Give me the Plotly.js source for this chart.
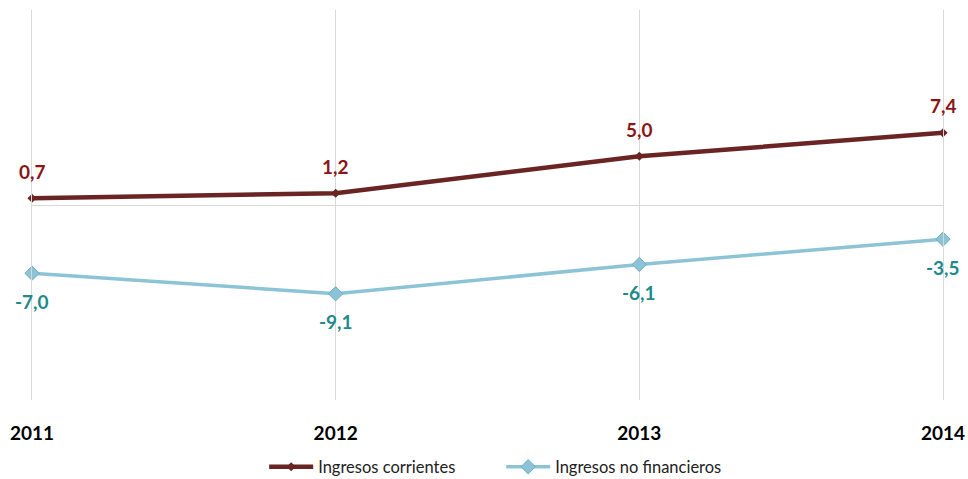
<!DOCTYPE html>
<html><head><meta charset="utf-8">
<script src="https://cdn.plot.ly/plotly-3.0.1.min.js"></script>
<style>html,body{margin:0;padding:0;background:#fff;}</style>
</head><body><div id="chart" style="width:968px;height:479px;"></div>
<script>
const years = ['2011','2012','2013','2014'];
const corrientes = [0.7, 1.2, 5.0, 7.4];
const noFinancieros = [-7.0, -9.1, -6.1, -3.5];
const seriesNames = ['Ingresos corrientes', 'Ingresos no financieros'];

const fmt = v => v.toFixed(1).replace('.', ',');
const FONT = 'Lato, "Open Sans", sans-serif';
const RED = '#8b1515', TEAL = '#1f8a8a';

const traces = [
  {
    x: years, y: corrientes, name: seriesNames[0], type: 'scatter',
    mode: 'lines+markers',
    line: {color: '#6b2424', width: 4.5},
    marker: {symbol: 'diamond', size: 7, color: '#6b2424'},
    cliponaxis: false
  },
  {
    x: years, y: noFinancieros, name: seriesNames[1], type: 'scatter',
    mode: 'lines+markers',
    line: {color: '#8cc3d6', width: 3.5},
    marker: {symbol: 'diamond', size: 11, color: '#8cc3d6', line: {color: '#6fb0c6', width: 1}},
    cliponaxis: false
  }
];

// annotations positioned by category index on the category axis
const annotations = [];
years.forEach((yr, i) => {
  annotations.push({xref: 'x', yref: 'y', x: i, y: corrientes[i], text: '<b>' + fmt(corrientes[i]) + '</b>',
    showarrow: false, yshift: 27, font: {family: FONT, size: 19, color: RED}});
  annotations.push({xref: 'x', yref: 'y', x: i, y: noFinancieros[i], text: '<b>' + fmt(noFinancieros[i]) + '</b>',
    showarrow: false, yshift: -28, font: {family: FONT, size: 19, color: TEAL}});
});

const layout = {
  width: 968, height: 479,
  margin: {l: 32, r: 25, t: 10, b: 79, autoexpand: false},
  paper_bgcolor: '#fff', plot_bgcolor: '#fff',
  font: {family: FONT, color: '#000'},
  showlegend: true,
  legend: {orientation: 'h', x: 0.515, xanchor: 'center', xref: 'paper',
           yref: 'container', y: 0.025, yanchor: 'middle',
           font: {family: FONT, size: 16.5, color: '#222'}, itemwidth: 44,
           entrywidth: 178, entrywidthmode: 'pixels'},
  annotations: annotations,
  xaxis: {
    type: 'category', range: [0, 3],
    showgrid: true, gridcolor: '#d9d9d9', gridwidth: 1,
    showline: false, zeroline: false, ticks: '',
    tickfont: {family: FONT, size: 19, color: '#000', weight: 'bold'},
    ticklabelstandoff: 20
  },
  yaxis: {
    range: [-20, 20], showgrid: false, showticklabels: false,
    showline: true, mirror: true, linecolor: '#d9d9d9', linewidth: 1,
    zeroline: true, zerolinecolor: '#d9d9d9', zerolinewidth: 1, ticks: ''
  }
};

Plotly.newPlot('chart', traces, layout, {displayModeBar: false, staticPlot: true});
</script></body></html>
